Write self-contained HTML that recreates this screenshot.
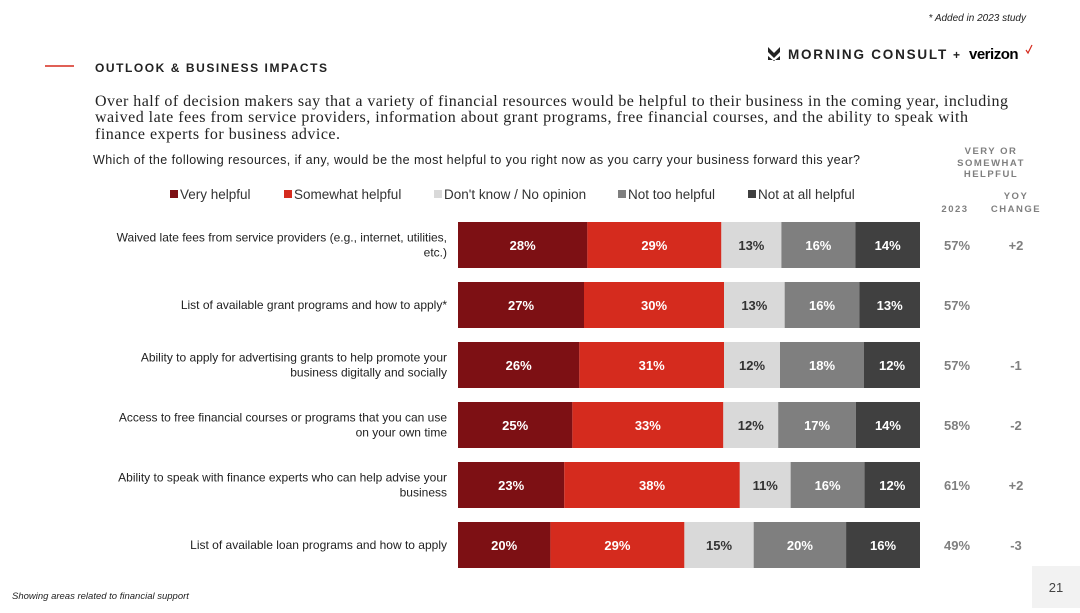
<!DOCTYPE html>
<html><head><meta charset="utf-8"><style>
body{margin:0;background:#fff;}
svg text{font-family:"Liberation Sans",sans-serif;}
</style></head><body>
<svg id="c" width="1080" height="608" viewBox="0 0 1080 608" xmlns="http://www.w3.org/2000/svg">
<text x="1026" y="21" font-size="10" font-style="italic" text-anchor="end" fill="#222">* Added in 2023 study</text>
<g>
<path d="M768 47 l6 6 l6 -6 v5 l-6 6 l-6 -6z M768 56 l6 5 l6 -5 v4 h-12z" fill="#222"/>
<text x="788" y="59" font-size="13.5" font-weight="bold" letter-spacing="1.8" fill="#222" textLength="160">MORNING CONSULT</text>
<text x="953" y="59" font-size="12" font-weight="bold" fill="#222">+</text>
<text x="969" y="59" font-size="15" font-weight="bold" fill="#000" letter-spacing="-0.5">verizon</text>
<path d="M1026 50 l2 3 l4 -8" stroke="#d52b1e" stroke-width="1.2" fill="none"/>
</g>
<line x1="45" y1="66" x2="74" y2="66" stroke="#d52b1e" stroke-width="1.5"/>
<text x="95" y="72" font-size="12" font-weight="bold" letter-spacing="2" fill="#222" textLength="234">OUTLOOK &amp; BUSINESS IMPACTS</text>
<g font-size="16" fill="#222">
<text x="95" y="106" style="font-family:'Liberation Serif',serif" textLength="913">Over half of decision makers say that a variety of financial resources would be helpful to their business in the coming year, including</text>
<text x="95" y="122" style="font-family:'Liberation Serif',serif" textLength="873">waived late fees from service providers, information about grant programs, free financial courses, and the ability to speak with</text>
<text x="95" y="139" style="font-family:'Liberation Serif',serif" textLength="245">finance experts for business advice.</text>
</g>
<text x="93" y="164" font-size="12.5" fill="#222" textLength="767">Which of the following resources, if any, would be the most helpful to you right now as you carry your business forward this year?</text>
<g font-size="9.5" font-weight="bold" fill="#7f7f7f" letter-spacing="1.5" text-anchor="middle">
<text x="991" y="154">VERY OR</text><text x="991" y="166">SOMEWHAT</text><text x="991" y="177">HELPFUL</text>
<text x="1016" y="199">YOY</text><text x="955" y="212">2023</text><text x="1016" y="212">CHANGE</text>
</g>
<g id="legend"></g>
<g id="bars"></g>
<text x="12" y="599" font-size="9.5" font-style="italic" fill="#222">Showing areas related to financial support</text>
<rect x="1032" y="566" width="48" height="42" fill="#f2f2f2"/>
<text x="1056" y="592" font-size="13" text-anchor="middle" fill="#444">21</text>
</svg>
<script>
const categories=[["Waived late fees from service providers (e.g., internet, utilities,","etc.)"],["List of available grant programs and how to apply*"],["Ability to apply for advertising grants to help promote your","business digitally and socially"],["Access to free financial courses or programs that you can use","on your own time"],["Ability to speak with finance experts who can help advise your","business"],["List of available loan programs and how to apply"]];
const seriesNames=["Very helpful","Somewhat helpful","Don't know / No opinion","Not too helpful","Not at all helpful"];
const veryHelpful=[28,27,26,25,23,20];
const somewhatHelpful=[29,30,31,33,38,29];
const dontKnow=[13,13,12,12,11,15];
const notTooHelpful=[16,16,18,17,16,20];
const notAtAllHelpful=[14,13,12,14,12,16];
const total2023=["57%","57%","57%","58%","61%","49%"];
const yoyChange=["+2","","-1","-2","+2","-3"];
const colors=["#7d1014","#d52b1e","#d9d9d9","#7f7f7f","#404040"];
const NS="http://www.w3.org/2000/svg";
const X0=458,W=462,T0=222,STEP=60,H=46;
function mk(tag,at,parent,txt){const e=document.createElementNS(NS,tag);for(const k in at)e.setAttribute(k,at[k]);if(txt!==undefined)e.textContent=txt;parent.appendChild(e);return e;}
const legend=document.getElementById('legend');
const lx=[170,284,434,618,748];
seriesNames.forEach((n,i)=>{
 const g=mk('g',{},legend);
 
 
 mk('rect',{x:lx[i],y:190,width:8,height:8,fill:colors[i]},g);
 mk('text',{x:lx[i]+10,y:199,'font-size':13.5,fill:'#333'},g,n);
});
const bars=document.getElementById('bars');
const series=[veryHelpful,somewhatHelpful,dontKnow,notTooHelpful,notAtAllHelpful];
categories.forEach((cat,r)=>{
 const y=T0+r*STEP;
 const tot=series.reduce((a,s)=>a+s[r],0);
 const xs=v=>v/tot*W;
 const lab=mk('text',{'font-size':12,fill:'#222','text-anchor':'end'},bars);
 
 
 cat.forEach((line,j)=>{mk('tspan',{x:447,y:y+H/2+4+(j-(cat.length-1)/2)*15},lab,line);});
 let cx=X0;
 series.forEach((s,i)=>{
  const w=xs(s[r]);
  const rc=mk('rect',{x:cx,y:y,width:w,height:H,fill:colors[i]},bars);
  
  
  const t=mk('text',{x:cx+w/2,y:y+H/2+5,'font-size':13,'font-weight':'bold','text-anchor':'middle',fill:i===2?'#333':'#fff'},bars,s[r]+'%');
  
  
  cx+=w;
 });
 const a=mk('text',{x:957,y:y+H/2+5,'font-size':13,'font-weight':'bold','text-anchor':'middle',fill:'#7f7f7f'},bars,total2023[r]);
 
 
 const b=mk('text',{x:1016,y:y+H/2+5,'font-size':13,'font-weight':'bold','text-anchor':'middle',fill:'#7f7f7f'},bars,yoyChange[r]);
 
 
});
</script>
</body></html>
